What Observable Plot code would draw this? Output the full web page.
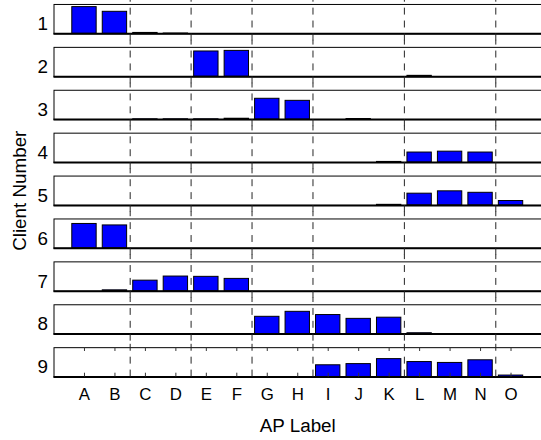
<!DOCTYPE html>
<html><head><meta charset="utf-8">
<script src="https://cdn.jsdelivr.net/npm/d3@7"></script>
<script src="https://cdn.jsdelivr.net/npm/@observablehq/plot@0.6"></script>
<style>body{margin:0;overflow:hidden;background:#fff} #chart{width:541px;height:440px;overflow:hidden}</style>
</head><body><div id="chart"></div>
<script>
const apLabels = ["A","B","C","D","E","F","G","H","I","J","K","L","M","N","O"];
const clientIds = [1,2,3,4,5,6,7,8,9];
//                A     B     C     D     E     F     G     H     I     J     K     L     M     N     O
const client1 = [0.91, 0.75, 0.03, 0.01, 0,    0,    0,    0,    0,    0,    0,    0,    0,    0,    0];
const client2 = [0,    0,    0,    0,    0.86, 0.88, 0,    0,    0,    0,    0,    0.03, 0,    0,    0];
const client3 = [0,    0,    0.01, 0.01, 0.01, 0.03, 0.71, 0.64, 0,    0.02, 0,    0,    0,    0,    0];
const client4 = [0,    0,    0,    0,    0,    0,    0,    0,    0,    0,    0.02, 0.34, 0.37, 0.34, 0];
const client5 = [0,    0,    0,    0,    0,    0,    0,    0,    0,    0,    0.02, 0.40, 0.48, 0.43, 0.15];
const client6 = [0.83, 0.78, 0,    0,    0,    0,    0,    0,    0,    0,    0,    0,    0,    0,    0];
const client7 = [0,    0.03, 0.36, 0.50, 0.49, 0.42, 0,    0,    0,    0,    0,    0,    0,    0,    0];
const client8 = [0,    0,    0,    0,    0,    0,    0.59, 0.76, 0.65, 0.52, 0.56, 0.03, 0,    0,    0];
const client9 = [0,    0,    0,    0,    0,    0,    0,    0,    0.40, 0.44, 0.61, 0.51, 0.48, 0.57, 0.05];
const apGroups = [["A","B"],["C","D"],["E","F"],["G","H"],["I","J","K"],["L","M","N"],["O"]];

const clientValues = [client1, client2, client3, client4, client5, client6, client7, client8, client9];
const bars = clientValues.flatMap((vals, ci) => vals.map((v, ai) => ({client: clientIds[ci], ap: ai + 1, value: v}))).filter(d => d.value > 0);
const apIndex = apLabels.map((_, i) => i + 1);
const boundaries = apGroups.slice(0, -1).map(g => apLabels.indexOf(g[g.length - 1]) + 1.5);
const lastClient = clientIds[clientIds.length - 1];
const dashes = clientIds.flatMap(c => boundaries.map(b => ({client: c, x: b})));

const chart = Plot.plot({
  width: 546, height: 440,
  marginLeft: 54, marginRight: 0, marginTop: 4, marginBottom: 60,
  style: {fontFamily: "'Liberation Sans', Arial, Helvetica, sans-serif", fontSize: "17px", color: "#000", background: "#fff"},
  x: {domain: [0, 16]},
  y: {domain: [0, 1], axis: null},
  fy: {domain: clientIds, paddingInner: 0.316, paddingOuter: 0, round: false},
  marks: [
    Plot.rectY(bars, {x1: d => d.ap - 0.4, x2: d => d.ap + 0.4, y: "value", fy: "client", fill: "#0000ff", stroke: "#000", strokeWidth: 1}),
    Plot.frame({stroke: "#000"}),
    Plot.ruleY([0], {stroke: "#000", strokeWidth: 2}),
    Plot.ruleX(dashes, {x: "x", fy: "client", y1: d => d.client === lastClient ? 0 : -0.24, y2: 1.24, stroke: "#222", strokeDasharray: "7,6"}),
    Plot.ruleX(apIndex, {x: d => d, y1: 0, y2: 0.13, fy: () => lastClient, stroke: "#333"}),
    Plot.ruleX(apIndex, {x: d => d, y1: 0.87, y2: 1, fy: () => lastClient, stroke: "#333"}),
    Plot.axisX({ticks: apIndex, tickFormat: i => apLabels[i - 1], tickSize: 0, tickPadding: 11, fontSize: 17, label: null}),
    Plot.axisX({ticks: [], label: "AP Label", labelAnchor: "center", labelArrow: false, labelOffset: 55, fontSize: 19}),
    Plot.axisFy({anchor: "left", tickSize: 0, tickPadding: 6, fontSize: 19, dy: 5, label: "Client Number", labelAnchor: "center", labelArrow: false, labelOffset: 42})
  ]
});
document.getElementById("chart").append(chart);
</script></body></html>
